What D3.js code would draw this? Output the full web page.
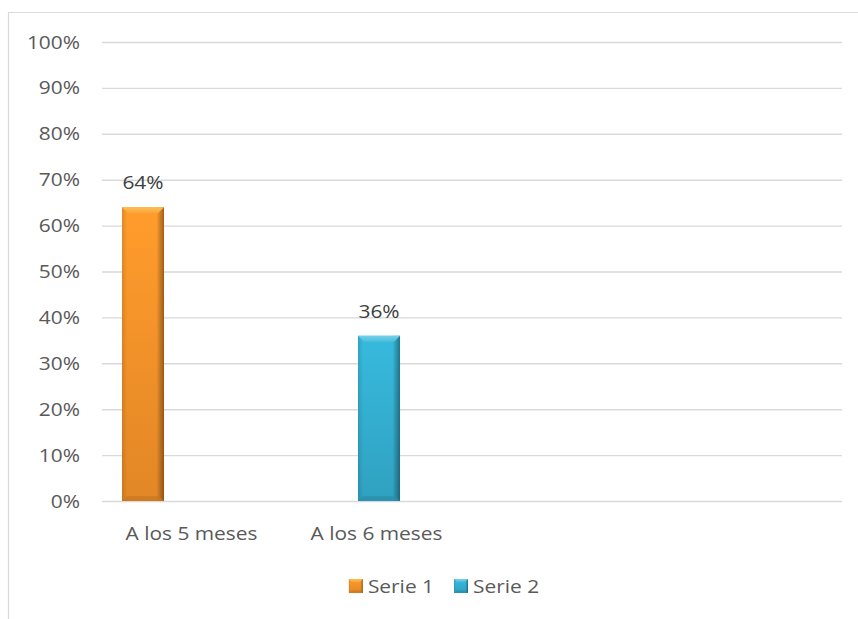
<!DOCTYPE html>
<html>
<head>
<meta charset="utf-8">
<script src="https://cdn.jsdelivr.net/npm/d3@7"></script>
<style>
  html, body { margin: 0; padding: 0; background: #fff; }
  svg { display: block; }
  text { font-family: "Open Sans", "Noto Sans", sans-serif; }
</style>
</head>
<body>
<svg id="chart" width="858" height="619"></svg>
<script>
// Category slots along the x axis (the last two slots are empty)
const categories = ["A los 5 meses", "A los 6 meses", "", ""];
const seriesNames = ["Serie 1", "Serie 2"];
const serie1 = [64, null, null, null];
const serie2 = [null, 36, null, null];
const seriesColors = ["#f7942a", "#34b0d2"];
const bevelTints = ["#ffe27a", "#a8ecff"];
const yTicks = [0, 10, 20, 30, 40, 50, 60, 70, 80, 90, 100];

const W = 858, H = 619;
const margin = { left: 102, right: 16, top: 42, bottom: 118 };
const fontSize = 19;
const stretch = 1.1;           // horizontal widening of all text
const textColor = "#595959";

const svg = d3.select("#chart");
const defs = svg.append("defs");

// frame of the chart area
svg.append("path")
  .attr("d", `M8.5,${H} V12.5 H${W}`)
  .attr("fill", "none").attr("stroke", "#d9d9d9").attr("stroke-width", 1.2);

const y = d3.scaleLinear().domain([0, 100]).range([H - margin.bottom, margin.top]);
const x0 = d3.scaleBand().domain(d3.range(categories.length))
  .range([margin.left, W - margin.right]);
const bw0 = x0.bandwidth();
const x1 = d3.scaleBand().domain(seriesNames)
  .range([bw0 * 0.108, bw0 * 0.611]).paddingInner(0.176);

// horizontal gridlines
const grid = svg.append("g").attr("transform", `translate(${margin.left},0)`)
  .call(d3.axisLeft(y).tickValues(yTicks).tickSize(-(W - margin.right - margin.left)).tickFormat(""));
grid.select(".domain").remove();
grid.selectAll("line").attr("stroke", "#d9d9d9").attr("stroke-width", 1.4);

// y axis labels
const yAxis = svg.append("g").attr("transform", `translate(${margin.left},0)`)
  .call(d3.axisLeft(y).tickValues(yTicks).tickSize(0).tickPadding(22).tickFormat(d => d + "%"));
yAxis.select(".domain").remove();
yAxis.selectAll("text")
  .attr("fill", textColor).style("font-size", fontSize + "px")
  .style("font-family", "'Open Sans', sans-serif")
  .attr("x", -22 / stretch)
  .attr("transform", `scale(${stretch},1)`);

// x axis labels
const xAxis = svg.append("g").attr("transform", `translate(0,${y(0)})`)
  .call(d3.axisBottom(x0).tickSize(0).tickFormat(i => categories[i]));
xAxis.select(".domain").remove();
xAxis.selectAll("text")
  .attr("fill", textColor).style("font-size", fontSize + "px")
  .style("font-family", "'Open Sans', sans-serif")
  .attr("y", 39).attr("dy", 0)
  .attr("x", -3 / stretch)
  .attr("transform", `scale(${stretch},1)`);

// gradients for the bevelled bars
function makeGradients(id, base, tint) {
  const c = d3.color(base);
  const body = defs.append("linearGradient").attr("id", id + "-body")
    .attr("x1", 0).attr("y1", 0).attr("x2", 0).attr("y2", 1);
  body.append("stop").attr("offset", "0%").attr("stop-color", d3.color(base).brighter(0.15));
  body.append("stop").attr("offset", "100%").attr("stop-color", d3.color(base).darker(0.25));
  const side = defs.append("linearGradient").attr("id", id + "-side")
    .attr("x1", 0).attr("y1", 0).attr("x2", 1).attr("y2", 0);
  side.append("stop").attr("offset", "0%").attr("stop-color", "#000").attr("stop-opacity", 0.12);
  side.append("stop").attr("offset", "12%").attr("stop-color", "#000").attr("stop-opacity", 0);
  side.append("stop").attr("offset", "82%").attr("stop-color", "#000").attr("stop-opacity", 0);
  side.append("stop").attr("offset", "100%").attr("stop-color", "#000").attr("stop-opacity", 0.38);
  const top = defs.append("linearGradient").attr("id", id + "-top")
    .attr("x1", 0).attr("y1", 0).attr("x2", 0).attr("y2", 1);
  top.append("stop").attr("offset", "0%").attr("stop-color", d3.interpolateRgb(c, tint)(0.55));
  top.append("stop").attr("offset", "100%").attr("stop-color", d3.interpolateRgb(c, tint)(0.2));
}
seriesColors.forEach((col, k) => makeGradients("s" + k, col, bevelTints[k]));

function bevelBar(g, x, yTop, w, yBot, k, bevel) {
  const base = seriesColors[k];
  const b = Math.min(bevel, (yBot - yTop) / 2);
  g.append("rect").attr("x", x).attr("y", yTop).attr("width", w).attr("height", yBot - yTop)
    .attr("fill", `url(#s${k}-body)`);
  g.append("rect").attr("x", x).attr("y", yTop).attr("width", w).attr("height", yBot - yTop)
    .attr("fill", `url(#s${k}-side)`);
  // top face
  g.append("path")
    .attr("d", `M${x},${yTop} H${x + w} L${x + w - b},${yTop + b} H${x + b} Z`)
    .attr("fill", `url(#s${k}-top)`);
  // bottom face
  g.append("path")
    .attr("d", `M${x},${yBot} H${x + w} L${x + w - b * 0.8},${yBot - b * 0.8} H${x + b * 0.8} Z`)
    .attr("fill", d3.color(base).darker(0.6)).attr("opacity", 0.75);
}

// bars
const seriesData = [serie1, serie2];
seriesData.forEach((vals, k) => {
  const gs = svg.append("g").attr("class", "series-" + k);
  vals.forEach((v, i) => {
    if (v == null) return;
    const bx = x0(i) + x1(seriesNames[k]);
    bevelBar(gs, bx, y(v), x1.bandwidth(), y(0), k, 6);
    gs.append("text")
      .attr("transform", `translate(${bx + x1.bandwidth() / 2},${y(v) - 18}) scale(${stretch},1)`)
      .attr("text-anchor", "middle")
      .attr("fill", "#404040").style("font-size", fontSize + "px")
      .text(v + "%");
  });
});

// legend
const legend = svg.append("g");
const items = legend.selectAll("g").data(seriesNames).join("g");
items.each(function (name, k) {
  const it = d3.select(this);
  bevelBar(it, 0, -14, 14, 0, k, 3);
  it.append("text").attr("transform", `translate(19,0) scale(${stretch},1)`)
    .attr("fill", textColor).style("font-size", fontSize + "px").text(name);
});
let lx = 0;
const widths = [];
items.each(function () { widths.push(this.getBBox().width); });
const gap = 20;
const total = d3.sum(widths) + gap * (widths.length - 1);
lx = 444 - total / 2;
items.attr("transform", (d, k) => {
  const t = `translate(${lx},593)`;
  lx += widths[k] + gap;
  return t;
});
</script>
</body>
</html>
